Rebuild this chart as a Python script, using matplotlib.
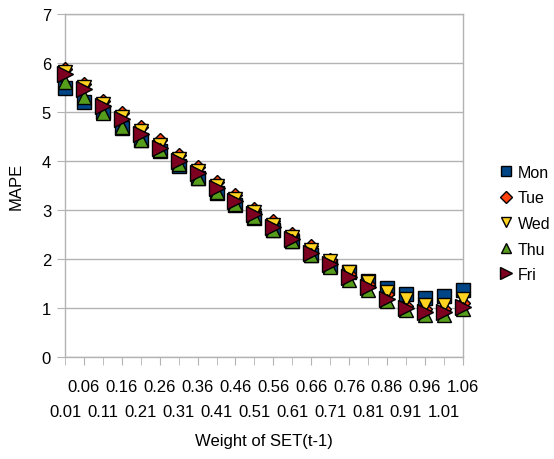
import matplotlib
matplotlib.use("Agg")
import matplotlib.pyplot as plt
import numpy as np

plt.rcParams['font.family'] = ['Liberation Sans', 'DejaVu Sans']

weights = ["0.01", "0.06", "0.11", "0.16", "0.21", "0.26", "0.31", "0.36", "0.41", "0.46", "0.51",
           "0.56", "0.61", "0.66", "0.71", "0.76", "0.81", "0.86", "0.91", "0.96", "1.01", "1.06"]

mon = [5.50, 5.21, 5.00, 4.67, 4.43, 4.20, 3.89, 3.65, 3.35, 3.11, 2.84,
       2.59, 2.36, 2.08, 1.86, 1.74, 1.55, 1.40, 1.28, 1.21, 1.24, 1.36]
tue = [5.87, 5.57, 5.23, 4.97, 4.70, 4.42, 4.13, 3.87, 3.58, 3.31, 3.02,
       2.78, 2.52, 2.27, 1.98, 1.70, 1.50, 1.28, 1.05, 0.98, 0.98, 1.10]
wed = [5.82, 5.51, 5.17, 4.90, 4.61, 4.32, 4.05, 3.79, 3.50, 3.23, 2.96,
       2.70, 2.45, 2.18, 1.96, 1.73, 1.53, 1.33, 1.19, 1.06, 1.06, 1.19]
thu = [5.61, 5.31, 4.98, 4.70, 4.43, 4.22, 3.93, 3.65, 3.37, 3.12, 2.85,
       2.60, 2.36, 2.08, 1.84, 1.58, 1.37, 1.14, 0.96, 0.85, 0.85, 0.97]
fri = [5.78, 5.46, 5.13, 4.86, 4.56, 4.27, 4.01, 3.75, 3.45, 3.18, 2.91,
       2.65, 2.40, 2.12, 1.89, 1.64, 1.42, 1.19, 1.01, 0.91, 0.91, 1.02]

series = [("Mon", mon, 's', '#004586', 10.5),
          ("Tue", tue, 'D', '#ff420e', 7.5),
          ("Wed", wed, 'v', '#ffd320', 10.5),
          ("Thu", thu, '^', '#579d1c', 10.5),
          ("Fri", fri, '>', '#7e0021', 11)]

fig = plt.figure(figsize=(5.54, 4.60), dpi=100)
ax = fig.add_axes([65/554, (460-358)/460, (462.7-65)/554, (358-15)/460])

x = np.arange(len(weights))
for name, vals, m, c, ms in series:
    ax.plot(x, vals, linestyle='none', marker=m, markersize=ms, markerfacecolor=c,
            markeredgecolor='black', markeredgewidth=1.0, label=name, clip_on=False, zorder=3)

ax.set_xlim(0, len(weights) - 1)
ax.set_ylim(0, 7)
ax.set_yticks(range(0, 8))
ax.yaxis.grid(True, color='#b3b3b3', linewidth=1)
ax.set_axisbelow(True)
for s in ax.spines.values():
    s.set_color('#b3b3b3')
    s.set_linewidth(1)

major = x[1::2]
minor = x[0::2]
ax.set_xticks(major)
ax.set_xticklabels([weights[i] for i in major])
ax.set_xticks(minor, minor=True)
ax.set_xticklabels([weights[i] for i in minor], minor=True)
ax.tick_params(axis='x', which='both', length=6, color='#b3b3b3', labelsize=12)
ax.tick_params(axis='x', which='major', pad=10)
ax.tick_params(axis='x', which='minor', pad=28)
ax.tick_params(axis='y', length=6, color='#b3b3b3', labelsize=12, pad=4)

ax.set_ylabel("MAPE", fontsize=12, labelpad=13)
ax.set_xlabel("Weight of SET(t-1)", fontsize=12, labelpad=10)

leg = fig.legend(loc='center left', bbox_to_anchor=(0.901, 0.512), frameon=False,
                 fontsize=11.5, handlelength=0.8, handletextpad=0.35, labelspacing=0.66,
                 markerscale=0.75, borderpad=0, borderaxespad=0)

fig.savefig("out.png", dpi=100)
